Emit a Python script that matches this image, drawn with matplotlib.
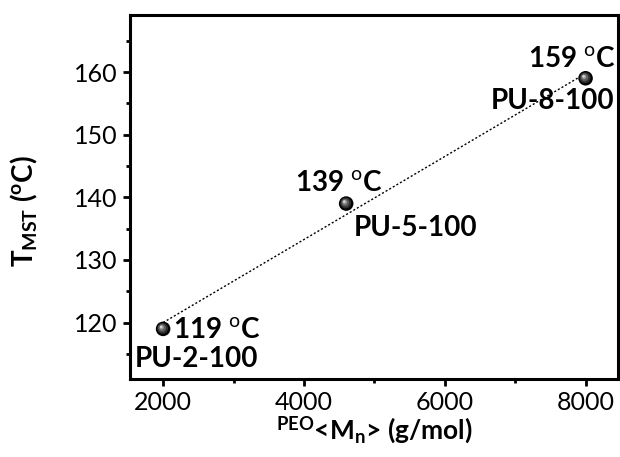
import numpy as np
import matplotlib
matplotlib.use("Agg")
import matplotlib.pyplot as plt
from matplotlib.transforms import ScaledTranslation

plt.rcParams['font.family'] = ['Lato', 'DejaVu Sans']
plt.rcParams['mathtext.fontset'] = 'custom'
plt.rcParams['mathtext.rm'] = 'Lato'
plt.rcParams['mathtext.bf'] = 'Lato:bold'
plt.rcParams['mathtext.it'] = 'Lato:italic'

# PEO molecular weight (g/mol) and measured MST temperature (°C)
mn_peo = [2000, 4600, 8000]
t_mst = [119, 139, 159]
samples = ['PU-2-100', 'PU-5-100', 'PU-8-100']
temp_labels = [r'119 $^{\mathrm{o}}$C', r'139 $^{\mathrm{o}}$C', r'159 $^{\mathrm{o}}$C']

fig = plt.figure(figsize=(6.2, 4.57), dpi=100)
ax = fig.add_axes([0.2097, 0.1707, 0.787, 0.7965])

# linear fit line
coef = np.polyfit(mn_peo, t_mst, 1)
xf = np.array([min(mn_peo), max(mn_peo)])
ax.plot(xf, np.polyval(coef, xf), linestyle=(0, (1.5, 1.5)), color='black', lw=1.0, zorder=2)

# shaded spherical markers
ax.scatter(mn_peo, t_mst, s=110, color='black', zorder=3, edgecolors='none')
shades = [(60, '#303030'), (30, '#606060'), (10, '#9a9a9a'), (3, '#d8d8d8')]
for i, (sz, col) in enumerate(shades):
    off = ScaledTranslation(-(i + 1) * 0.35 / 72, (i + 1) * 0.35 / 72, fig.dpi_scale_trans)
    ax.scatter(mn_peo, t_mst, s=sz, color=col, zorder=4 + i, edgecolors='none',
               transform=ax.transData + off)

# point annotations (offsets in points)
fs_ann = 20
temp_offsets = [(7, -6.5, 'left'), (-5.8, 9.4, 'center'), (21.6, 7.9, 'right')]
name_offsets = [(23.8, -27.4, 'center'), (5.8, -23.0, 'left'), (20.9, -22.3, 'right')]
for x, y, tl, nm, to, no in zip(mn_peo, t_mst, temp_labels, samples, temp_offsets, name_offsets):
    ax.annotate(tl, (x, y), xytext=to[:2], textcoords='offset points',
                ha=to[2], va='baseline', fontsize=fs_ann, fontweight='bold')
    ax.annotate(nm, (x, y), xytext=no[:2], textcoords='offset points',
                ha=no[2], va='baseline', fontsize=fs_ann, fontweight='bold')

ax.set_xlim(1530, 8460)
ax.set_ylim(111, 169.1)
ax.set_xticks([2000, 4000, 6000, 8000])
ax.set_xticks([3000, 5000, 7000], minor=True)
ax.set_yticks([120, 130, 140, 150, 160])
ax.set_yticks([115, 125, 135, 145, 155, 165], minor=True)

for sp in ax.spines.values():
    sp.set_linewidth(2.2)
ax.tick_params(which='major', direction='out', length=5, width=2, labelsize=18, pad=4)
ax.tick_params(which='minor', direction='out', length=3, width=2)

ax.set_xlabel(r'$^{\mathbf{PEO}}$<M$_{\mathbf{n}}$> (g/mol)', fontsize=19, fontweight='bold', labelpad=0)
ax.set_ylabel(r'T$_{\mathbf{MST}}$ ($^{\mathbf{o}}$C)', fontsize=20, fontweight='bold')
ax.yaxis.set_label_coords(-0.184, 0.46)

fig.savefig('out.png', dpi=100)
